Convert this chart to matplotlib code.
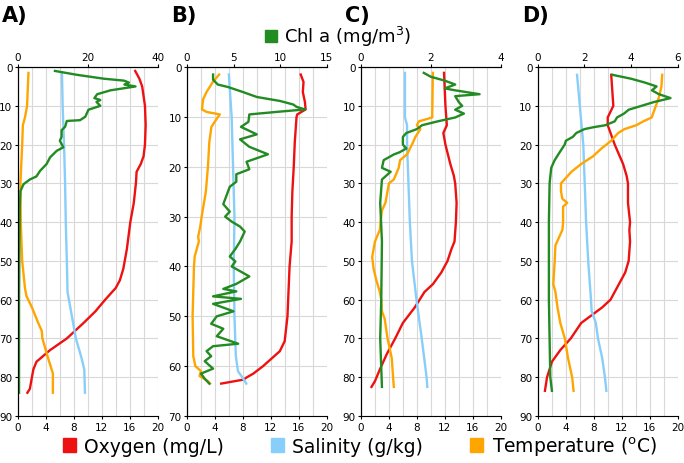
import matplotlib.pyplot as plt
import numpy as np
from matplotlib.patches import Patch

''' profile data read off the reference (depth in m) '''

# panel A
a_oxy_depth = [1, 3, 5, 10, 15, 20, 23, 25, 27, 30, 35, 40, 47, 52, 55, 57, 60, 63, 66, 70, 73, 76, 78, 80, 83, 84]
a_oxy = [16.8, 17.4, 17.8, 18.2, 18.3, 18.2, 18.0, 17.6, 17.0, 16.9, 16.6, 16.1, 15.6, 15.1, 14.6, 14.0, 12.5, 11.1, 9.4, 7.0, 4.6, 2.65, 2.2, 2.0, 1.7, 1.35]
a_sal_depth = [1.5, 10, 20, 30, 40, 50, 58, 62, 66, 70, 75, 78, 84]
a_sal = [6.3, 6.4, 6.6, 6.75, 6.85, 7.0, 7.1, 7.5, 7.9, 8.3, 9.1, 9.5, 9.6]
a_temp_depth = [1.5, 10, 13, 15, 20, 30, 40, 50, 57, 59, 62, 66, 68, 70, 75, 79, 84]
a_temp = [1.5, 1.3, 1.0, 0.7, 0.6, 0.35, 0.4, 0.6, 1.0, 1.2, 2.0, 2.9, 3.4, 3.5, 4.3, 5.0, 5.0]
a_chl_depth = [1, 2, 3, 3.5, 4, 4.5, 5, 6, 7, 8, 8.5, 9, 10, 11, 12.8, 13.7, 13.9, 15.4, 16.3, 18, 19, 20.7, 21.6, 23.3, 25, 26.8, 28.2, 29, 30.2, 32, 36.5, 45, 60, 84]
a_chl = [10.6, 16.9, 24.6, 30.4, 31.8, 30.5, 33.7, 26.5, 22.7, 21.9, 23.6, 22.5, 23.6, 20.2, 19.3, 17.8, 14.0, 13.5, 12.5, 12.5, 12.0, 13.0, 11.1, 9.2, 8.2, 6.3, 5.3, 3.4, 1.6, 0.7, 0.5, 0.4, 0.3, 0.3]

# panel B
b_oxy_depth = [1.5, 3, 5, 7, 8.5, 9.5, 10, 15, 20, 25, 30, 35, 40, 50, 55, 57, 58.5, 60, 61.5, 62.3, 62.7, 63.2, 63.5]
b_oxy = [16.3, 16.7, 16.6, 16.9, 17.0, 15.8, 15.7, 15.45, 15.3, 15.1, 15.0, 15.0, 14.7, 14.4, 14.0, 13.3, 12.1, 10.9, 9.5, 8.5, 8.1, 6.1, 4.9]
b_sal_depth = [1.5, 10, 20, 30, 40, 50, 58, 61, 63, 63.5]
b_sal = [6.0, 6.4, 6.6, 6.8, 6.7, 6.8, 7.0, 7.3, 8.3, 8.5]
b_temp_depth = [1.5, 3, 5, 6.5, 8.5, 9, 9.5, 10.5, 12, 15, 20, 25, 30, 32, 34, 35, 38, 40, 50, 58, 60, 61, 62, 63, 63.5]
b_temp = [4.6, 3.7, 2.8, 2.3, 2.15, 2.8, 4.7, 4.2, 3.5, 3.2, 3.0, 2.7, 2.1, 1.9, 1.6, 1.7, 1.1, 1.0, 0.8, 0.9, 1.2, 2.0, 1.8, 3.0, 3.3]
b_chl_depth = [1.5, 2.5, 3.5, 4, 5, 6, 6.8, 7.5, 8, 8.5, 9, 9.5, 11, 12, 13.5, 14.5, 16, 17.5, 19, 20.5, 21.5, 23, 24, 26, 27.5, 29, 30, 31, 32, 33, 35, 36.5, 38, 39, 40, 42, 43.5, 44.5, 45, 46, 46.5, 47.5, 49, 50, 51.5, 52.5, 54, 55.5, 56, 57, 58, 59, 60.5, 61.5, 62.5, 63.5]
b_chl = [2.8, 2.8, 3.3, 4.4, 6.0, 7.5, 10.0, 11.4, 11.8, 12.7, 9.6, 6.7, 6.6, 5.8, 7.5, 5.7, 6.7, 8.7, 6.4, 6.7, 5.3, 5.3, 4.6, 4.2, 3.9, 4.6, 4.1, 4.8, 5.7, 6.2, 5.7, 5.2, 4.6, 5.2, 4.8, 6.7, 5.3, 3.9, 5.3, 2.8, 5.8, 2.8, 5.0, 3.2, 2.6, 3.9, 3.2, 5.5, 2.8, 2.1, 2.6, 1.9, 2.8, 1.5, 1.9, 2.4]

# panel C
c_oxy_depth = [1.5, 10, 15, 17, 20, 25, 28, 30, 35, 40, 45, 47, 50, 53, 56, 58, 62, 66, 70, 74, 78, 81, 82.5]
c_oxy = [11.9, 12.1, 12.3, 11.8, 12.1, 12.8, 13.3, 13.5, 13.7, 13.6, 13.4, 12.95, 12.4, 11.5, 10.3, 9.1, 7.7, 6.0, 4.9, 3.7, 2.7, 2.0, 1.5]
c_sal_depth = [1.5, 13, 15, 20, 30, 40, 50, 60, 70, 80, 82.5]
c_sal = [6.3, 6.3, 6.6, 6.6, 6.8, 7.0, 7.3, 7.95, 8.7, 9.4, 9.5]
c_temp_depth = [1.5, 13, 14, 15, 16, 18, 20, 22.5, 24, 26, 29, 30, 35, 37, 40, 42, 45, 49, 52, 55, 58, 60, 63, 65, 70, 75, 80, 82.5]
c_temp = [10.3, 10.2, 8.3, 8.0, 8.5, 7.8, 7.3, 6.6, 5.6, 5.4, 4.7, 4.0, 3.5, 3.0, 2.8, 2.7, 2.0, 1.6, 1.8, 2.2, 2.7, 2.9, 3.0, 3.4, 3.8, 4.4, 4.6, 4.7]
c_chl_depth = [1.5, 2.5, 3.5, 4.5, 5.5, 6, 7, 7.5, 9, 10, 11, 12, 13, 14, 15, 16, 17, 18, 20, 21, 22, 22.5, 24, 26, 27, 29, 35, 45, 60, 70, 82.5]
c_chl = [1.8, 2.0, 2.4, 2.7, 2.4, 2.7, 3.4, 2.7, 2.8, 2.9, 2.7, 2.95, 2.7, 2.2, 1.75, 1.6, 1.3, 1.2, 1.2, 1.3, 1.1, 0.95, 0.65, 0.6, 0.85, 0.6, 0.55, 0.6, 0.58, 0.55, 0.6]

# panel D
d_oxy_depth = [2, 10, 13, 15, 20, 25, 28, 30, 35, 40, 42, 45, 50, 53, 57, 60, 62, 64, 66, 70, 73, 76, 80, 83.5]
d_oxy = [10.5, 10.8, 10.0, 10.0, 11.0, 12.2, 12.7, 12.9, 12.9, 13.2, 13.1, 13.2, 13.0, 12.5, 11.3, 10.4, 9.2, 7.7, 6.2, 4.7, 3.2, 2.0, 1.3, 1.0]
d_sal_depth = [2, 10, 20, 30, 40, 50, 60, 63, 66, 70, 75, 80, 83.5]
d_sal = [5.6, 6.0, 6.5, 6.7, 6.9, 7.2, 7.6, 7.7, 8.3, 8.6, 9.2, 9.6, 9.8]
d_temp_depth = [2, 5, 8, 11, 13, 14, 15, 16, 17, 19, 21, 23, 25, 27, 28, 30, 32, 34, 35, 36, 40, 42, 46, 50, 56, 58, 62, 66, 70, 75, 80, 83.5]
d_temp = [17.8, 17.7, 17.3, 16.7, 16.3, 15.1, 14.1, 12.4, 11.5, 10.5, 9.1, 7.9, 6.2, 4.8, 4.3, 3.3, 3.3, 3.5, 4.2, 3.6, 3.6, 3.5, 2.5, 2.4, 2.2, 2.5, 2.8, 3.2, 3.85, 4.3, 4.9, 5.1]
d_chl_depth = [2, 3, 4, 5, 6, 7, 8, 9, 10, 11, 12, 13, 14, 15, 15.5, 16, 17, 18, 19, 20, 22, 24, 26, 30, 40, 60, 80, 83.5]
d_chl = [3.2, 4.0, 4.6, 5.1, 4.9, 5.2, 5.7, 5.0, 4.45, 3.9, 3.7, 3.4, 3.3, 2.9, 2.4, 2.0, 1.65, 1.5, 1.2, 1.15, 0.93, 0.72, 0.57, 0.5, 0.47, 0.47, 0.53, 0.6]

panel_labels = ['A)', 'B)', 'C)', 'D)']
depth_max = [90, 70, 90, 90]
chl_max = [40, 15, 4, 6]
chl_ticks = [[0, 20, 40], [0, 5, 10, 15], [0, 2, 4], [0, 2, 4, 6]]

panels = [
    (a_oxy_depth, a_oxy, a_sal_depth, a_sal, a_temp_depth, a_temp, a_chl_depth, a_chl),
    (b_oxy_depth, b_oxy, b_sal_depth, b_sal, b_temp_depth, b_temp, b_chl_depth, b_chl),
    (c_oxy_depth, c_oxy, c_sal_depth, c_sal, c_temp_depth, c_temp, c_chl_depth, c_chl),
    (d_oxy_depth, d_oxy, d_sal_depth, d_sal, d_temp_depth, d_temp, d_chl_depth, d_chl),
]

red = '#ee1111'
blue = '#87cefa'
orange = '#ffa500'
green = '#228b22'

fig = plt.figure(figsize=(6.84, 4.64), dpi=100)

lefts = [0.0263, 0.2734, 0.5278, 0.7865]
width = 0.204
bottom = 0.1013
height = 0.752

for i, p in enumerate(panels):
    oxy_d, oxy, sal_d, sal, temp_d, temp, chl_d, chl = p
    ax = fig.add_axes([lefts[i], bottom, width, height])
    ax.plot(oxy, oxy_d, color=red, lw=1.7)
    ax.plot(sal, sal_d, color=blue, lw=1.7)
    ax.plot(temp, temp_d, color=orange, lw=1.7)
    ax.set_xlim(0, 20)
    ax.set_ylim(depth_max[i], 0)
    ax.set_xticks(np.arange(0, 21, 4))
    ax.set_xticks(np.arange(2, 20, 4), minor=True)
    ax.set_yticks(np.arange(0, depth_max[i] + 1, 10))
    ax.grid(True, which='both', color='#d8d8d8', lw=0.8)
    ax.set_axisbelow(True)
    ax.tick_params(labelsize=7.5, length=2.5, width=0.8, pad=1.5)
    ax.tick_params(which='minor', length=0)
    ax.spines['right'].set_visible(False)

    # chlorophyll on its own top axis
    ax2 = ax.twiny()
    ax2.plot(chl, chl_d, color=green, lw=1.7)
    ax2.set_xlim(0, chl_max[i])
    ax2.set_xticks(chl_ticks[i])
    ax2.tick_params(labelsize=7.5, length=2.5, width=0.8, pad=1)
    ax2.spines['right'].set_visible(False)
    ax2.spines['bottom'].set_visible(False)

    fig.text(lefts[i] - 0.023, 0.965, panel_labels[i], fontsize=15, fontweight='bold', va='center', ha='left')

fig.legend(handles=[Patch(color=green, label='Chl a (mg/m$\\mathregular{^3}$)')],
           loc='center', bbox_to_anchor=(0.494, 0.92), frameon=False, fontsize=13,
           handlelength=0.7, handleheight=0.7, handletextpad=0.35, borderpad=0)

fig.legend(handles=[Patch(color=red, label='Oxygen (mg/L)'),
                    Patch(color=blue, label='Salinity (g/kg)'),
                    Patch(color=orange, label='Temperature ($\\mathregular{^o}$C)')],
           loc='center', bbox_to_anchor=(0.526, 0.037), ncol=3, frameon=False, fontsize=13.5,
           handlelength=0.7, handleheight=0.7, handletextpad=0.45, columnspacing=2.5, borderpad=0)

plt.savefig('out.png', dpi=100)
